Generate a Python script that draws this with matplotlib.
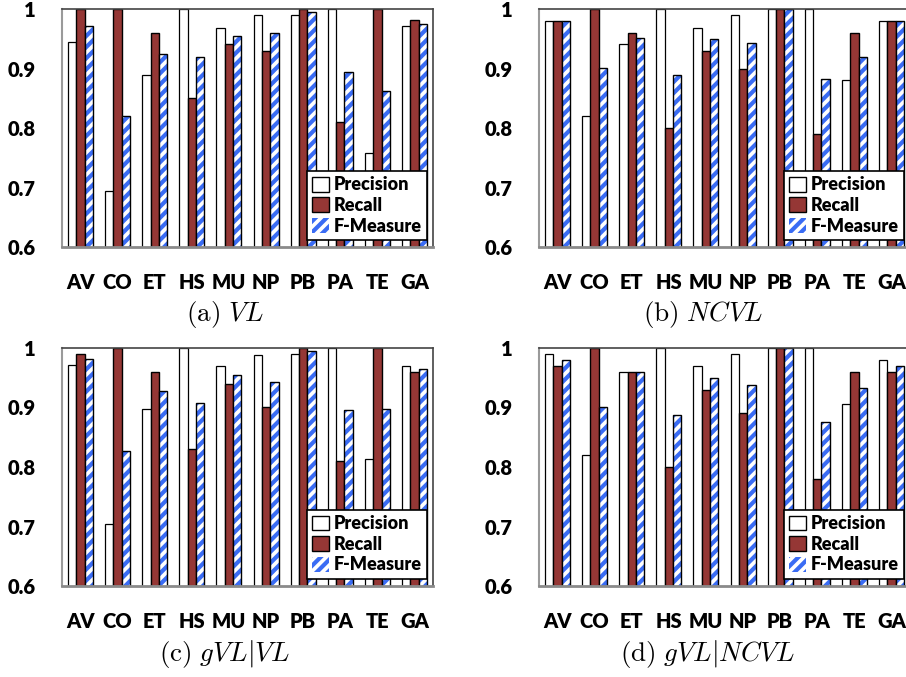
import numpy as np
import matplotlib
matplotlib.use("Agg")
import matplotlib.pyplot as plt
from matplotlib.patches import Patch

plt.rcParams["font.family"] = ["Lato", "DejaVu Sans"]
plt.rcParams["font.weight"] = "bold"
plt.rcParams["mathtext.fontset"] = "cm"
plt.rcParams["hatch.linewidth"] = 3.0

datasets = ["AV", "CO", "ET", "HS", "MU", "NP", "PB", "PA", "TE", "GA"]

# (a) VL
vl_precision = [0.944, 0.694, 0.889, 1.0, 0.969, 0.990, 0.990, 1.0, 0.758, 0.971]
vl_recall = [1.0, 1.0, 0.960, 0.850, 0.941, 0.930, 1.0, 0.810, 1.0, 0.981]
vl_fmeasure = [0.971, 0.820, 0.924, 0.919, 0.955, 0.960, 0.995, 0.895, 0.862, 0.975]

# (b) NCVL
ncvl_precision = [0.980, 0.820, 0.942, 1.0, 0.969, 0.990, 1.0, 1.0, 0.881, 0.980]
ncvl_recall = [0.980, 1.0, 0.960, 0.800, 0.930, 0.900, 1.0, 0.790, 0.960, 0.980]
ncvl_fmeasure = [0.980, 0.901, 0.951, 0.889, 0.949, 0.943, 1.0, 0.883, 0.919, 0.980]

# (c) gVL|VL
gvl_vl_precision = [0.971, 0.705, 0.897, 1.0, 0.969, 0.989, 0.990, 1.0, 0.813, 0.970]
gvl_vl_recall = [0.990, 1.0, 0.960, 0.830, 0.940, 0.900, 1.0, 0.810, 1.0, 0.960]
gvl_vl_fmeasure = [0.981, 0.827, 0.928, 0.908, 0.955, 0.943, 0.995, 0.895, 0.897, 0.965]

# (d) gVL|NCVL
gvl_ncvl_precision = [0.990, 0.820, 0.960, 1.0, 0.969, 0.990, 1.0, 1.0, 0.906, 0.980]
gvl_ncvl_recall = [0.970, 1.0, 0.960, 0.800, 0.930, 0.890, 1.0, 0.780, 0.960, 0.960]
gvl_ncvl_fmeasure = [0.980, 0.901, 0.960, 0.888, 0.949, 0.937, 1.0, 0.876, 0.932, 0.970]

captions = [r"$\mathrm{(a)}\ VL$", r"$\mathrm{(b)}\ NCVL$",
            r"$\mathrm{(c)}\ gVL|VL$", r"$\mathrm{(d)}\ gVL|NCVL$"]

RECALL_RED = "#953735"
STRIPE_BLUE = "#3a6cf4"
width = 0.225

fig = plt.figure(figsize=(9.06, 6.77), dpi=100)

panels = [
    (vl_precision, vl_recall, vl_fmeasure),
    (ncvl_precision, ncvl_recall, ncvl_fmeasure),
    (gvl_vl_precision, gvl_vl_recall, gvl_vl_fmeasure),
    (gvl_ncvl_precision, gvl_ncvl_recall, gvl_ncvl_fmeasure),
]
# axes boxes in figure fractions: left, bottom, width, height
boxes = [
    (0.0684, 0.635, 0.4095, 0.3516),
    (0.5949, 0.635, 0.4095, 0.3516),
    (0.0684, 0.1344, 0.4095, 0.3516),
    (0.5949, 0.1344, 0.4095, 0.3516),
]
caption_pos = [(0.248, 0.535), (0.776, 0.535), (0.248, 0.034), (0.781, 0.034)]

x = np.arange(len(datasets))
for (prec, rec, fm), box, cap, cpos in zip(panels, boxes, captions, caption_pos):
    ax = fig.add_axes(box)
    ax.bar(x - width, prec, width, color="white", edgecolor="black", linewidth=0.9)
    ax.bar(x, rec, width, color=RECALL_RED, edgecolor="black", linewidth=1.0)
    # striped fill first, outline on top
    ax.bar(x + width, fm, width, color="white", edgecolor=STRIPE_BLUE,
           linewidth=0, hatch="///")
    ax.bar(x + width, fm, width, color="none", edgecolor="black", linewidth=1.0)

    ax.set_ylim(0.6, 1.0)
    ax.set_xlim(-0.5, len(datasets) - 0.5)
    ax.set_yticks([0.6, 0.7, 0.8, 0.9, 1.0])
    ax.set_yticklabels(["0.6", "0.7", "0.8", "0.9", "1"])
    ax.set_xticks(x)
    ax.set_xticklabels(datasets)
    ax.tick_params(axis="both", length=0, labelsize=14.5)
    ax.tick_params(axis="y", pad=19)
    ax.tick_params(axis="x", pad=19)
    for lbl in ax.get_xticklabels() + ax.get_yticklabels():
        lbl.set_fontweight("heavy")

    ax.spines["left"].set_color("#9a9a9a")
    ax.spines["bottom"].set_color("#8a8a8a")
    ax.spines["top"].set_color("#444444")
    ax.spines["right"].set_color("#444444")
    ax.spines["left"].set_linewidth(1.5)
    ax.spines["bottom"].set_linewidth(2.0)
    ax.spines["top"].set_linewidth(1.2)
    ax.spines["right"].set_linewidth(1.2)

    handles = [
        Patch(facecolor="white", edgecolor="black", linewidth=1.0, label="Precision"),
        Patch(facecolor=RECALL_RED, edgecolor="black", linewidth=1.0, label="Recall"),
        Patch(facecolor="white", edgecolor=STRIPE_BLUE, hatch="///", linewidth=0,
              label="F-Measure"),
    ]
    leg = ax.legend(handles=handles, loc="lower right", bbox_to_anchor=(0.985, 0.03),
                    borderaxespad=0, fancybox=False, framealpha=1,
                    edgecolor="black", handlelength=0.9, handleheight=0.9,
                    handletextpad=0.3, labelspacing=0.2, borderpad=0.3,
                    prop={"weight": "heavy", "size": 13})
    leg.get_frame().set_linewidth(1.2)

    fig.text(cpos[0], cpos[1], cap, fontsize=19.5, ha="center", va="center")

fig.savefig("out.png", dpi=100)
